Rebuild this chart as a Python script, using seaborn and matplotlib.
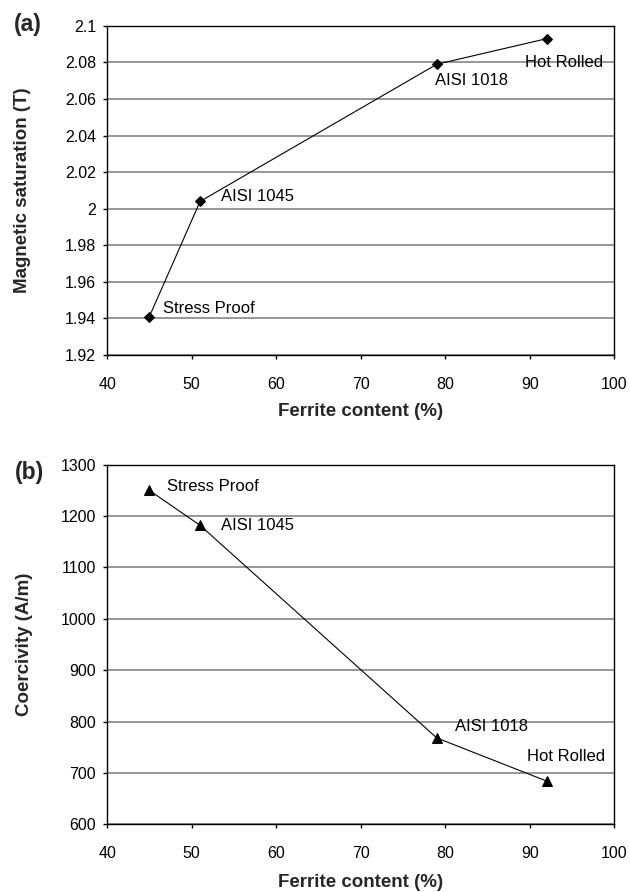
import matplotlib
matplotlib.use("Agg")
import matplotlib.pyplot as plt
import seaborn as sns
import pandas as pd

# Steel grades and their measured properties
grades = ["Stress Proof", "AISI 1045", "AISI 1018", "Hot Rolled"]
ferrite = [45, 51, 79, 92]
saturation = [1.941, 2.004, 2.079, 2.093]
coercivity = [1250, 1182, 768, 684]

sat_ticks = [1.92, 1.94, 1.96, 1.98, 2.0, 2.02, 2.04, 2.06, 2.08, 2.1]
sat_labels = ["1.92", "1.94", "1.96", "1.98", "2", "2.02", "2.04", "2.06", "2.08", "2.1"]
coe_ticks = [600, 700, 800, 900, 1000, 1100, 1200, 1300]
x_ticks = [40, 50, 60, 70, 80, 90, 100]

df = pd.DataFrame({"grade": grades, "ferrite": ferrite,
                   "saturation": saturation, "coercivity": coercivity})

sns.set_theme(style="ticks")
plt.rcParams["font.family"] = ["Liberation Sans", "DejaVu Sans"]

fig = plt.figure(figsize=(6.3, 8.92), dpi=100)
ax1 = fig.add_axes([0.170, 0.602, 0.805, 0.369])
ax2 = fig.add_axes([0.170, 0.076, 0.805, 0.403])


def style_axes(ax, yticks, ylabels, ylim, ylabel, xlab_y, ylab_x):
    ax.set_xlim(40, 100)
    ax.set_ylim(*ylim)
    ax.set_xticks(x_ticks)
    ax.set_yticks(yticks)
    ax.set_yticklabels(ylabels)
    ax.yaxis.grid(True, color="#7a7a7a", linewidth=1.1)
    ax.xaxis.grid(False)
    ax.set_axisbelow(True)
    for s in ax.spines.values():
        s.set_color("black")
        s.set_linewidth(1.0)
    ax.tick_params(axis="both", direction="out", length=3, width=1,
                   color="black", labelsize=11.5, labelcolor="black")
    ax.tick_params(axis="x", pad=13)
    ax.tick_params(axis="y", pad=5)
    ax.set_xlabel("Ferrite content (%)", fontsize=13.5, fontweight="bold")
    ax.set_ylabel(ylabel, fontsize=13.5, fontweight="bold")
    ax.xaxis.label.set_verticalalignment("center")
    ax.yaxis.label.set_verticalalignment("center")
    ax.xaxis.set_label_coords(0.5, xlab_y)
    ax.yaxis.set_label_coords(ylab_x, 0.5)


# (a) magnetic saturation
sns.lineplot(data=df, x="ferrite", y="saturation", ax=ax1, color="black",
             linewidth=0.8, marker="D", markersize=5.5, markeredgecolor="black",
             markerfacecolor="black")
style_axes(ax1, sat_ticks, sat_labels, (1.92, 2.1), "Magnetic saturation (T)",
           -0.173, -0.166)
ann_a = [((10, 6), "left"), ((15, 3.5), "left"), ((-1, -11.5), "left"),
         ((41, -17), "right")]
for g, xv, yv, (off, ha) in zip(grades, ferrite, saturation, ann_a):
    ax1.annotate(g, (xv, yv), xytext=off, textcoords="offset points",
                 fontsize=12, ha=ha, va="center", color="black")

# (b) coercivity
sns.lineplot(data=df, x="ferrite", y="coercivity", ax=ax2, color="black",
             linewidth=0.8, marker="^", markersize=7.5, markeredgecolor="black",
             markerfacecolor="black")
style_axes(ax2, coe_ticks, [str(t) for t in coe_ticks], (600, 1300),
           "Coercivity (A/m)", -0.162, -0.162)
ann_b = [((13, 3), "left"), ((15, 0), "left"), ((13, 8), "left"),
         ((42, 17.5), "right")]
for g, xv, yv, (off, ha) in zip(grades, ferrite, coercivity, ann_b):
    ax2.annotate(g, (xv, yv), xytext=off, textcoords="offset points",
                 fontsize=12, ha=ha, va="center", color="black")

fig.text(28 / 630, 1 - 24 / 892, "(a)", fontsize=16.5, fontweight="bold",
         ha="center", va="center")
fig.text(30 / 630, 1 - 473 / 892, "(b)", fontsize=16.5, fontweight="bold",
         ha="center", va="center")

fig.savefig("out.png", dpi=100, facecolor="white")
